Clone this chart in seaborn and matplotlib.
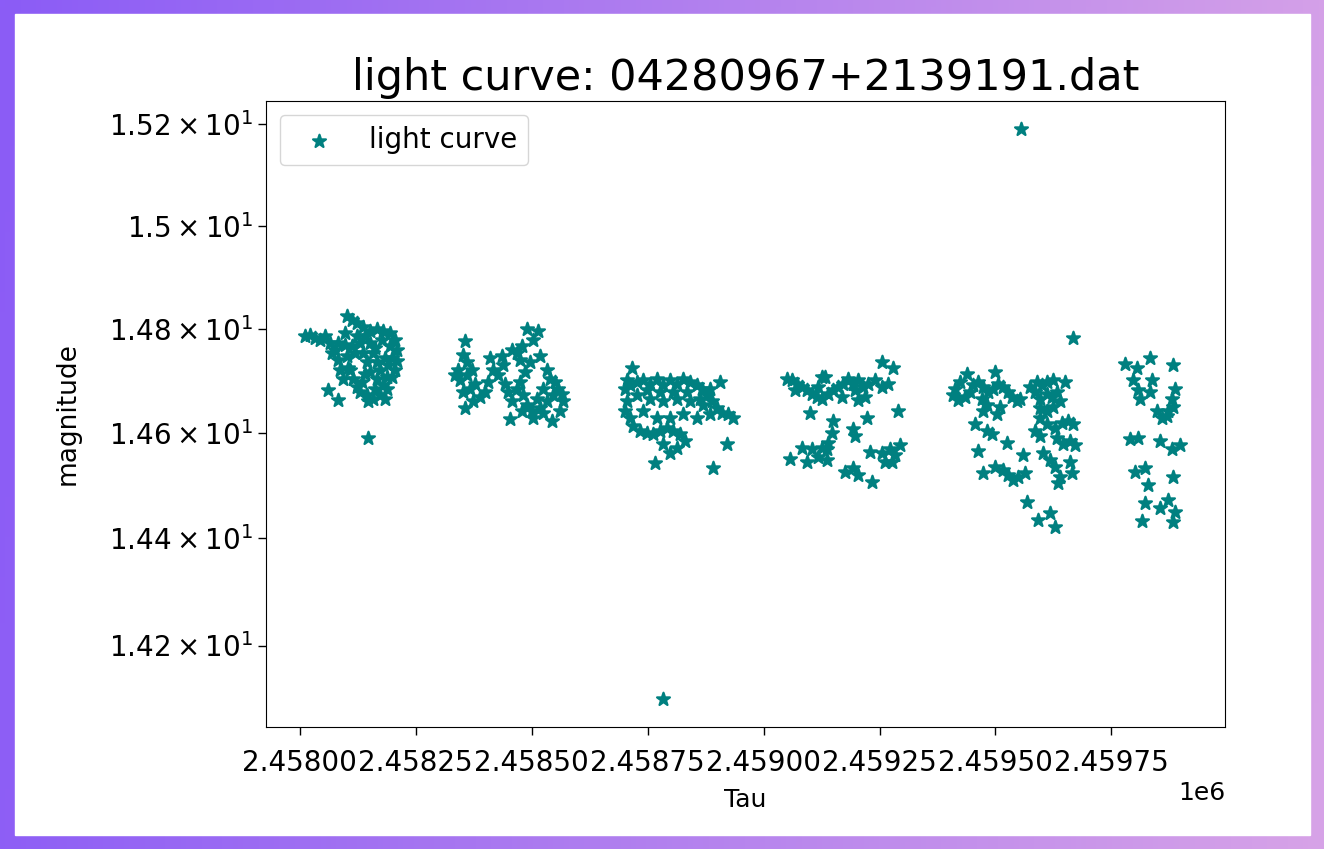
import numpy as np
import pandas as pd
import matplotlib
matplotlib.use("Agg")
import matplotlib.pyplot as plt
import seaborn as sns
from matplotlib.patches import Rectangle
from matplotlib.ticker import MultipleLocator, ScalarFormatter

# light curve points (Tau, magnitude), one list per observing season
season1 = [
    (2458011, 14.785), (2458022, 14.787), (2458032, 14.781), (2458043, 14.778),
    (2458054, 14.785), (2458065, 14.772), (2458075, 14.759), (2458082, 14.740),
    (2458086, 14.721), (2458093, 14.703), (2458101, 14.824), (2458112, 14.816),
    (2458123, 14.810), (2458136, 14.804), (2458151, 14.796), (2458166, 14.800),
    (2458179, 14.796), (2458194, 14.791), (2458205, 14.778), (2458209, 14.759),
    (2458209, 14.738), (2458205, 14.721), (2458097, 14.791), (2458097, 14.768),
    (2458101, 14.748), (2458108, 14.721), (2458114, 14.703), (2458123, 14.688),
    (2458129, 14.678), (2458145, 14.673), (2458157, 14.665), (2458173, 14.673),
    (2458179, 14.692), (2458166, 14.703), (2458151, 14.716), (2458145, 14.735),
    (2458136, 14.753), (2458129, 14.772), (2458123, 14.785), (2458151, 14.772),
    (2458157, 14.753), (2458166, 14.735), (2458173, 14.720), (2458188, 14.707),
    (2458188, 14.684), (2458183, 14.665), (2458060, 14.682), (2458082, 14.663),
    (2458147, 14.660), (2458147, 14.591), (2458194, 14.766), (2458198, 14.744),
    (2458190, 14.729), (2458069, 14.753), (2458082, 14.772), (2458112, 14.766),
    (2458140, 14.785), (2458177, 14.778), (2458134, 14.697), (2458162, 14.684),
    (2458119, 14.753), (2458162, 14.763), (2458183, 14.744), (2458104, 14.725),
    (2458140, 14.712), (2458198, 14.707),
]
season2 = [
    (2458356, 14.776), (2458352, 14.750), (2458360, 14.735), (2458341, 14.721),
    (2458334, 14.710), (2458345, 14.701), (2458360, 14.710), (2458371, 14.720),
    (2458377, 14.693), (2458367, 14.684), (2458352, 14.678), (2458356, 14.647),
    (2458373, 14.660), (2458388, 14.669), (2458399, 14.678), (2458406, 14.697),
    (2458410, 14.744), (2458416, 14.721), (2458436, 14.748), (2458427, 14.710),
    (2458442, 14.693), (2458449, 14.678), (2458457, 14.660), (2458453, 14.626),
    (2458438, 14.729), (2458457, 14.759), (2458468, 14.753), (2458479, 14.766),
    (2458490, 14.800), (2458513, 14.796), (2458503, 14.778), (2458518, 14.748),
    (2458496, 14.735), (2458485, 14.716), (2458475, 14.697), (2458468, 14.684),
    (2458481, 14.673), (2458490, 14.654), (2458500, 14.641), (2458511, 14.665),
    (2458518, 14.647), (2458533, 14.660), (2458533, 14.721), (2458539, 14.703),
    (2458550, 14.697), (2458557, 14.684), (2458565, 14.675), (2458567, 14.660),
    (2458561, 14.641), (2458544, 14.622), (2458524, 14.637), (2458503, 14.628),
    (2458479, 14.641), (2458524, 14.684), (2458546, 14.673), (2458475, 14.740),
]
season3 = [
    (2458716, 14.725), (2458705, 14.701), (2458701, 14.684), (2458712, 14.692),
    (2458727, 14.697), (2458740, 14.701), (2458755, 14.693), (2458770, 14.703),
    (2458783, 14.692), (2458798, 14.701), (2458813, 14.693), (2458826, 14.703),
    (2458841, 14.697), (2458856, 14.692), (2458867, 14.684), (2458878, 14.673),
    (2458889, 14.660), (2458899, 14.647), (2458910, 14.637), (2458923, 14.635),
    (2458934, 14.628), (2458906, 14.697), (2458705, 14.660), (2458701, 14.641),
    (2458712, 14.628), (2458718, 14.613), (2458733, 14.604), (2458748, 14.600),
    (2458761, 14.598), (2458777, 14.604), (2458792, 14.609), (2458805, 14.604),
    (2458820, 14.598), (2458830, 14.585), (2458813, 14.572), (2458798, 14.561),
    (2458783, 14.579), (2458766, 14.542), (2458891, 14.533), (2458921, 14.579),
    (2458727, 14.673), (2458755, 14.665), (2458783, 14.660), (2458813, 14.665),
    (2458841, 14.660), (2458869, 14.654), (2458884, 14.635), (2458740, 14.641),
    (2458770, 14.628), (2458798, 14.628), (2458826, 14.635), (2458856, 14.628),
    (2458834, 14.678), (2458805, 14.678), (2458777, 14.678), (2458748, 14.682),
    (2458884, 14.684), (2458863, 14.665), (2458783, 14.102),
]
season4 = [
    (2459050, 14.703), (2459061, 14.701), (2459072, 14.693), (2459083, 14.688),
    (2459094, 14.682), (2459104, 14.675), (2459115, 14.669), (2459126, 14.665),
    (2459132, 14.707), (2459139, 14.675), (2459150, 14.682), (2459160, 14.688),
    (2459171, 14.693), (2459182, 14.703), (2459193, 14.693), (2459204, 14.701),
    (2459214, 14.688), (2459225, 14.693), (2459240, 14.701), (2459255, 14.688),
    (2459268, 14.693), (2459255, 14.735), (2459279, 14.725), (2459290, 14.641),
    (2459100, 14.637), (2459126, 14.707), (2459219, 14.669), (2459204, 14.663),
    (2459223, 14.628), (2459150, 14.622), (2459148, 14.600), (2459139, 14.581),
    (2459137, 14.570), (2459126, 14.572), (2459104, 14.570), (2459083, 14.572),
    (2459057, 14.551), (2459094, 14.544), (2459117, 14.553), (2459137, 14.548),
    (2459193, 14.607), (2459197, 14.594), (2459176, 14.525), (2459193, 14.533),
    (2459204, 14.520), (2459234, 14.506), (2459229, 14.563), (2459255, 14.561),
    (2459273, 14.570), (2459283, 14.557), (2459277, 14.544), (2459262, 14.544),
    (2459294, 14.576), (2459197, 14.682), (2459169, 14.669), (2459117, 14.688),
    (2459068, 14.682),
]
season5 = [
    (2459439, 14.712), (2459424, 14.697), (2459413, 14.684), (2459409, 14.673),
    (2459419, 14.663), (2459434, 14.669), (2459445, 14.678), (2459452, 14.692),
    (2459462, 14.697), (2459473, 14.688), (2459484, 14.678), (2459495, 14.684),
    (2459499, 14.716), (2459506, 14.693), (2459516, 14.688), (2459527, 14.678),
    (2459536, 14.669), (2459547, 14.660), (2459553, 14.665), (2459471, 14.665),
    (2459482, 14.654), (2459510, 14.650), (2459503, 14.635), (2459473, 14.641),
    (2459456, 14.617), (2459482, 14.604), (2459493, 14.598), (2459525, 14.581),
    (2459462, 14.566), (2459560, 14.557), (2459473, 14.523), (2459499, 14.534),
    (2459516, 14.529), (2459527, 14.520), (2459538, 14.510), (2459549, 14.516),
    (2459564, 14.523), (2459635, 14.505), (2459568, 14.469), (2459592, 14.435),
    (2459618, 14.448), (2459629, 14.421), (2459575, 14.688), (2459590, 14.697),
    (2459601, 14.692), (2459611, 14.697), (2459624, 14.701), (2459650, 14.697),
    (2459585, 14.678), (2459596, 14.665), (2459611, 14.675), (2459622, 14.669),
    (2459633, 14.678), (2459596, 14.647), (2459611, 14.641), (2459624, 14.650),
    (2459639, 14.660), (2459596, 14.628), (2459585, 14.604), (2459596, 14.594),
    (2459611, 14.617), (2459629, 14.609), (2459644, 14.619), (2459657, 14.622),
    (2459667, 14.617), (2459633, 14.591), (2459646, 14.579), (2459661, 14.585),
    (2459672, 14.576), (2459603, 14.561), (2459618, 14.548), (2459629, 14.534),
    (2459661, 14.544), (2459665, 14.523), (2459639, 14.516), (2459667, 14.781),
    (2459555, 15.190),
]
season6 = [
    (2459780, 14.731), (2459805, 14.725), (2459833, 14.744), (2459883, 14.729),
    (2459797, 14.701), (2459808, 14.682), (2459812, 14.665), (2459838, 14.701),
    (2459833, 14.678), (2459887, 14.684), (2459881, 14.665), (2459883, 14.650),
    (2459872, 14.641), (2459849, 14.641), (2459859, 14.628), (2459870, 14.632),
    (2459790, 14.589), (2459808, 14.591), (2459855, 14.585), (2459881, 14.570),
    (2459898, 14.576), (2459801, 14.525), (2459823, 14.533), (2459829, 14.501),
    (2459883, 14.516), (2459823, 14.467), (2459855, 14.458), (2459872, 14.473),
    (2459887, 14.450), (2459816, 14.432), (2459883, 14.430),
]

TITLE = "light curve: 04280967+2139191.dat"

rows = season1 + season2 + season3 + season4 + season5 + season6
df = pd.DataFrame(rows, columns=["Tau", "magnitude"])

W, H = 1324, 849
fig = plt.figure(figsize=(W / 100, H / 100), dpi=100)

# purple gradient frame behind a white card
bg = fig.add_axes([0, 0, 1, 1])
gx = np.linspace(0, 1, 256)[None, :, None]
gy = np.linspace(0, 1, 128)[:, None, None]
left_col = np.array([139, 92, 246]) / 255
right_col = np.array([212, 160, 232]) / 255
grad = left_col + (right_col - left_col) * gx + 0.04 * gy * (right_col - left_col)
bg.imshow(np.clip(grad, 0, 1), aspect="auto", extent=[0, 1, 0, 1], origin="upper")
bg.add_patch(Rectangle((15 / W, 14 / H), (1310 - 15) / W, (835 - 14) / H,
                       transform=bg.transAxes, color="white", zorder=2))
bg.set_xlim(0, 1)
bg.set_ylim(0, 1)
bg.axis("off")

ax = fig.add_axes([266 / W, 1 - 727 / H, (1225 - 266) / W, (727 - 101) / H])
sns.scatterplot(data=df, x="Tau", y="magnitude", marker="*", color="teal",
                s=95, linewidth=1.6, edgecolor="teal", label="light curve", ax=ax)
ax.set_yscale("log")

ax.xaxis.set_major_locator(MultipleLocator(250))
fmt = ScalarFormatter(useOffset=False)
ax.xaxis.set_major_formatter(fmt)
ax.set_xlim(2457927, 2459995)

ax.tick_params(which="both", labelsize=20, length=6, width=1)
ax.tick_params(axis="x", pad=10)
ax.set_xlabel("Tau", fontsize=18, labelpad=8)
ax.set_ylabel("magnitude", fontsize=19, labelpad=20)
ax.xaxis.get_offset_text().set_fontsize(18)
ax.set_title(TITLE, fontsize=31, pad=8)
ax.legend(loc="upper left", fontsize=20)

fig.savefig("out.png", dpi=100)
